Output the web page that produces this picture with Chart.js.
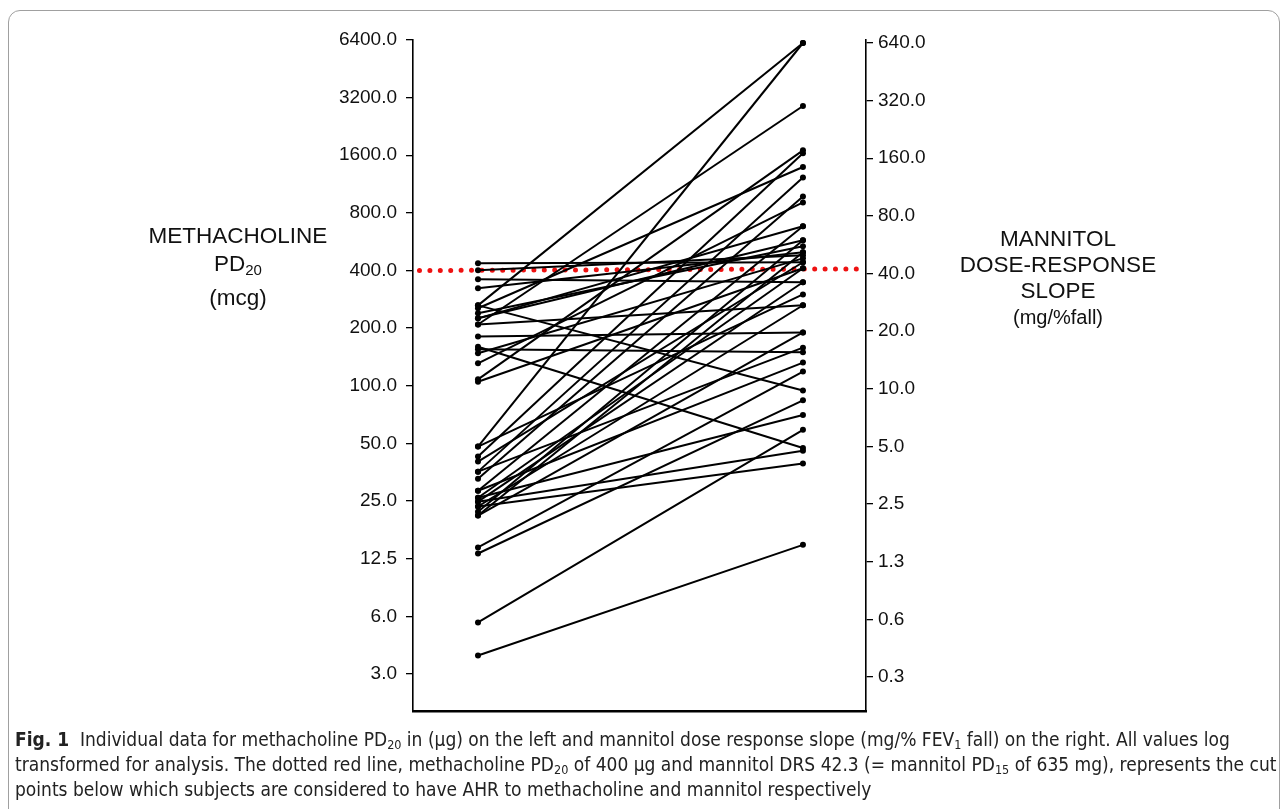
<!DOCTYPE html>
<html>
<head>
<meta charset="utf-8">
<script src="https://cdn.jsdelivr.net/npm/chart.js@4.4.0/dist/chart.umd.min.js"></script>
<style>
  body { margin: 0; background: #fff; width: 1284px; height: 809px; overflow: hidden; position: relative; font-family: "Liberation Sans", Arial, sans-serif; }
  #frame { position: absolute; left: 8px; top: 10px; width: 1270px; height: 830px; border: 1px solid #a0a0a0; border-radius: 12px; }
  #wrap { position: absolute; left: 0; top: 0; width: 1284px; height: 809px; }
  .ttl { position: absolute; text-align: center; color: #111; font-size: 22.5px; line-height: 26px; white-space: nowrap; }
  .ttl sub { font-size: 15px; vertical-align: -4px; line-height: 0; }
  #caption { position: absolute; left: 15px; top: 727px; font-family: "Liberation Sans Narrow", "DejaVu Sans Condensed", sans-serif; font-size: 19px; line-height: 25px; color: #222; white-space: nowrap; }
  #caption sub { font-size: 12.5px; vertical-align: -3px; line-height: 0; }
</style>
</head>
<body>
<div id="frame"></div>
<div id="wrap"><canvas id="chart" width="1284" height="809"></canvas></div>

<div class="ttl" style="left:128px; top:223px; width:220px;">METHACHOLINE</div>
<div class="ttl" style="left:128px; top:251px; width:220px;">PD<sub>20</sub></div>
<div class="ttl" style="left:128px; top:285px; width:220px;">(mcg)</div>
<div class="ttl" style="left:938px; top:226px; width:240px;">MANNITOL<br>DOSE-RESPONSE<br>SLOPE<br><span style="font-size:20px">(mg/%fall)</span></div>

<div id="caption">
<b>Fig. 1</b>&nbsp; Individual data for methacholine PD<sub>20</sub> in (µg) on the left and mannitol dose response slope (mg/% FEV<sub>1</sub> fall) on the right. All values log<br>
transformed for analysis. The dotted red line, methacholine PD<sub>20</sub> of 400 µg and mannitol DRS 42.3 (= mannitol PD<sub>15</sub> of 635 mg), represents the cut<br>
points below which subjects are considered to have AHR to methacholine and mannitol respectively
</div>

<script>
// one entry per subject: left = methacholine PD20 (mcg), right = mannitol DRS (mg/%fall)
var methacholinePD20 = [436, 401, 360, 323, 263, 263, 254, 239, 225, 225,
                        209, 209, 181, 160, 155, 148, 131, 108, 105, 48.1,
                        48.1, 42.7, 40.2, 35.6, 35.6, 32.7, 28.3, 28.3, 26.0, 26.0,
                        24.8, 24.8, 23.4, 23.4, 22.0, 21.0, 21.0, 14.3, 13.3, 5.8, 3.9];
var mannitolDRS      = [45.8, 49.8, 36.0, 51.6, 640, 9.8, 144, 55.5, 59.7, 70.6,
                        300, 27.3, 19.7, 4.9, 15.5, 48.0, 94, 176, 42.6, 640,
                        31.1, 170, 45.8, 127, 16.4, 101, 70.6, 13.7, 42.6, 7.3,
                        36.0, 4.75, 27.3, 4.07, 59.7, 51.6, 19.7, 12.3, 8.7, 6.1, 1.53];

var cutMethacholine = 400;
var cutMannitol = 42.3;

var leftTickValues = [3.125, 6.25, 12.5, 25, 50, 100, 200, 400, 800, 1600, 3200, 6400];
var leftTickLabels = ['3.0', '6.0', '12.5', '25.0', '50.0', '100.0', '200.0', '400.0', '800.0', '1600.0', '3200.0', '6400.0'];
var rightTickValues = [0.3125, 0.625, 1.25, 2.5, 5, 10, 20, 40, 80, 160, 320, 640];
var rightTickLabels = ['0.3', '0.6', '1.3', '2.5', '5.0', '10.0', '20.0', '40.0', '80.0', '160.0', '320.0', '640.0'];

// axis ranges
var leftMin = 2.0, leftMax = 6400;
var rightMax = 663.5;
var rightToLeft = leftMax / rightMax;   // right values are drawn on the left scale
var rightMin = leftMin / rightToLeft;

var xLeft = 1, xRight = 2;

var datasets = [];
for (let i = 0; i < methacholinePD20.length; i++) {
  datasets.push({
    data: [{x: xLeft, y: methacholinePD20[i]}, {x: xRight, y: mannitolDRS[i] * rightToLeft}],
    borderColor: '#000',
    borderWidth: 2,
    pointRadius: 3,
    pointBackgroundColor: '#000',
    pointBorderWidth: 0,
    yAxisID: 'y'
  });
}
// cut line
datasets.push({
  data: [{x: 0.82, y: cutMethacholine}, {x: 2.18, y: cutMannitol * rightToLeft}],
  borderColor: '#ee1111',
  borderWidth: 5,
  borderDash: [0, 10.4],
  borderCapStyle: 'round',
  pointRadius: 0,
  yAxisID: 'y'
});

var tickFont = {family: "'Liberation Sans', Arial, sans-serif", size: 19};

new Chart(document.getElementById('chart'), {
  type: 'line',
  data: {datasets: datasets},
  options: {
    responsive: false,
    animation: false,
    events: [],
    layout: {padding: {top: 40, left: 0, right: 0, bottom: 0}},
    plugins: {legend: {display: false}, tooltip: {enabled: false}},
    scales: {
      x: {
        type: 'linear',
        min: 0.8, max: 2.194,
        ticks: {display: false},
        grid: {display: false, drawTicks: false},
        border: {display: true, color: '#000', width: 2.4},
        afterFit: function(s) { s.height = 809 - 40 - 671; }
      },
      y: {
        type: 'logarithmic',
        position: 'left',
        min: leftMin, max: leftMax,
        afterBuildTicks: function(s) { s.ticks = leftTickValues.map(v => ({value: v})); },
        ticks: {
          color: '#111', font: tickFont, padding: 9,
          callback: function(v, idx) { return leftTickLabels[idx]; }
        },
        grid: {display: true, drawOnChartArea: false, drawTicks: true, tickLength: 7, color: '#000', lineWidth: 1.3},
        border: {display: true, color: '#000', width: 1.6},
        afterFit: function(s) { s.width = 413; }
      },
      y2: {
        type: 'logarithmic',
        position: 'right',
        min: rightMin, max: rightMax,
        afterBuildTicks: function(s) { s.ticks = rightTickValues.map(v => ({value: v})); },
        ticks: {
          color: '#111', font: tickFont, padding: 5,
          callback: function(v, idx) { return rightTickLabels[idx]; }
        },
        grid: {display: true, drawOnChartArea: false, drawTicks: true, tickLength: 7, color: '#000', lineWidth: 1.3},
        border: {display: true, color: '#000', width: 1.6},
        afterFit: function(s) { s.width = 1284 - 866; }
      }
    }
  }
});
</script>
</body>
</html>
